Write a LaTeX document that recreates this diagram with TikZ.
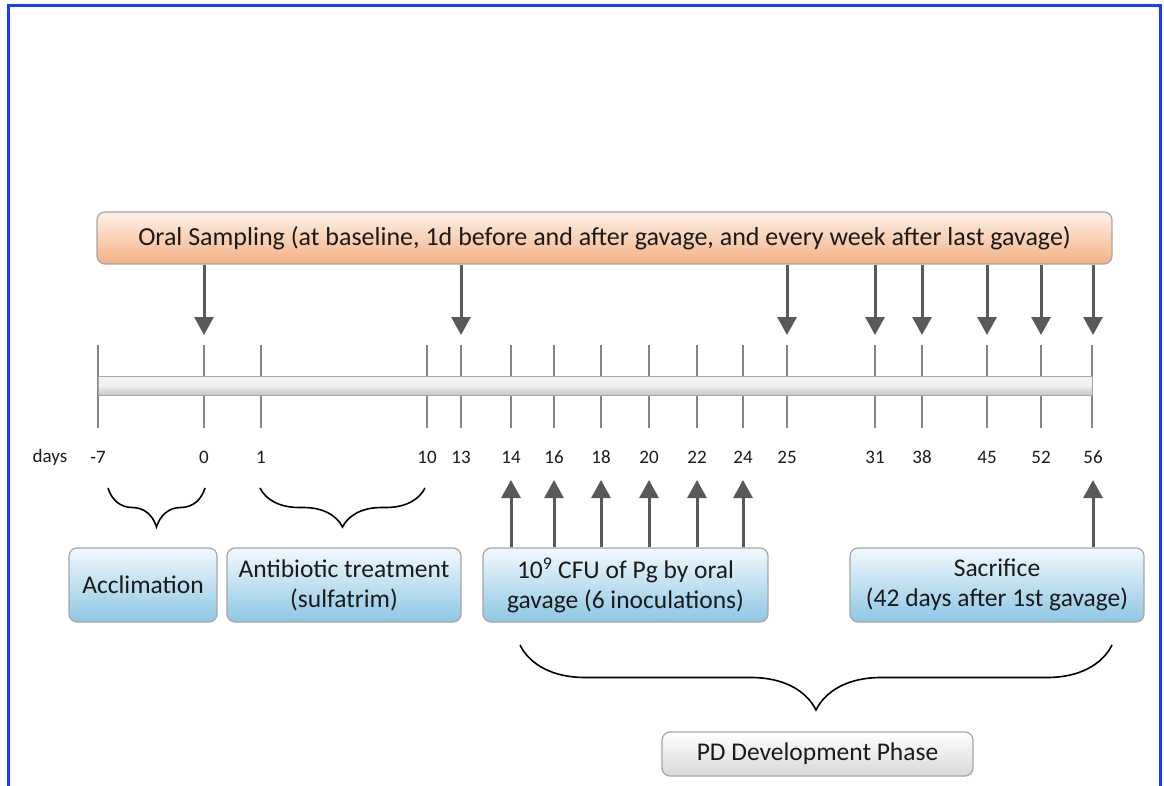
\documentclass[tikz,border=0pt]{standalone}
\usepackage{fontspec}
\setmainfont{Carlito}
\usetikzlibrary{arrows.meta,decorations.pathreplacing,shadings}
\definecolor{frameblue}{HTML}{1A3CFF}
\definecolor{arrowgray}{HTML}{595959}
\definecolor{tickgray}{HTML}{858585}
\definecolor{boxedge}{HTML}{A6A6A6}
\definecolor{oranget}{HTML}{FDF1E8}
\definecolor{orangeb}{HTML}{F4B183}
\definecolor{bluet}{HTML}{F2F9FD}
\definecolor{blueb}{HTML}{8DC7E4}
\definecolor{txt}{HTML}{1A1A1A}
\tikzset{
  oralbox/.style={draw=boxedge, line width=1.2pt, rounded corners=8pt, top color=oranget, bottom color=orangeb, inner sep=0pt, font=\fontsize{26}{30}\selectfont, text=txt},
  phasebox/.style={draw=boxedge, line width=1.2pt, rounded corners=8pt, top color=bluet, bottom color=blueb, inner sep=0pt, minimum height=74pt, align=center, font=\fontsize{25.5}{30}\selectfont, text=txt},
  pdbox/.style={draw=boxedge, line width=1.2pt, rounded corners=8pt, top color=white, bottom color=black!15, inner sep=0pt, font=\fontsize{25.5}{30}\selectfont, text=txt},
  barbox/.style={draw=boxedge, line width=1pt, top color=black!5, bottom color=black!22, middle color=black!6, inner sep=0pt},
  tickline/.style={draw=tickgray, line width=2pt},
  samplearrow/.style={draw=arrowgray, line width=3pt, -{Triangle[width=19pt,length=18pt]}},
  daylabel/.style={font=\fontsize{19}{22}\selectfont, text=txt, inner sep=0pt},
  bracepath/.style={draw=black, line width=1.6pt, decorate, decoration={brace, mirror, amplitude=#1}},
}
\begin{document}
\begin{tikzpicture}[x=1pt,y=-1pt]
\useasboundingbox (0,0) rectangle (1164,786);
% frame (open at bottom)
\draw[frameblue, line width=3pt] (8,786) -- (8,5.5) -- (1160,5.5) -- (1160,786);

% oral sampling box
\node[oralbox, minimum width=1015pt, minimum height=52pt] (oral) at (604.5,238) {Oral Sampling (at baseline, 1d before and after gavage, and every week after last gavage)};

% ticks
\foreach \x/\n in {98/m7,204/d0,261/d1,427/d10,461/d13,511/d14,554/d16,601/d18,649/d20,697/d22,743/d24,787/d25,875/d31,922/d38,987/d45,1041/d52,1092/d56}{
  \coordinate (top\n) at (\x,345);
  \coordinate (bot\n) at (\x,428);
  \draw[tickline] (top\n) -- (bot\n);
}
% timeline bar
\node[barbox, minimum width=994pt, minimum height=19pt] (bar) at (595,385.5) {};

% day labels
\node[daylabel] (days) at (50,457) {days};
\foreach \x/\t in {98/-7,204/0,261/1,427/10,461/13,511/14,554/16,601/18,649/20,697/22,743/24,787/25,875/31,922/38,987/45,1041/52,1093/56}{
  \node[daylabel] at (\x,457) {\t};
}

% sampling arrows
\foreach \x in {204,461,787,875,922,987,1041,1093}{
  \coordinate (tip\x) at (\x,335);
  \draw[samplearrow] (oral.south -| tip\x) -- (tip\x);
}

% phase boxes
\node[phasebox, minimum width=148pt] (accl) at (143,585) {Acclimation};
\node[phasebox, minimum width=234pt] (anti) at (344,585) {Antibiotic treatment\\(sulfatrim)};
\node[phasebox, minimum width=285pt] (gav) at (625.5,585) {10\textsuperscript{9} CFU of Pg by oral\\gavage (6 inoculations)};
\node[phasebox, minimum width=294pt] (sac) at (997,585) {Sacrifice\\(42 days after 1st gavage)};

% gavage arrows
\foreach \x in {511,554,601,649,697,743}{
  \coordinate (up\x) at (\x,480);
  \draw[samplearrow] (gav.north -| up\x) -- (up\x);
}
\coordinate (up1093) at (1093,480);
\draw[samplearrow] (sac.north -| up1093) -- (up1093);

% braces
\coordinate (b1a) at (108,488); \coordinate (b1b) at (205,488);
\coordinate (b2a) at (260,488); \coordinate (b2b) at (425,488);
\coordinate (b3a) at (520,645); \coordinate (b3b) at (1112,645);
\draw[bracepath=39pt] (b1a) -- (b1b);
\draw[bracepath=39pt] (b2a) -- (b2b);
\draw[bracepath=65pt] (b3a) -- (b3b);

% PD box
\node[pdbox, minimum width=311pt, minimum height=44pt] (pd) at (817.5,754) {PD Development Phase};
\end{tikzpicture}
\end{document}
